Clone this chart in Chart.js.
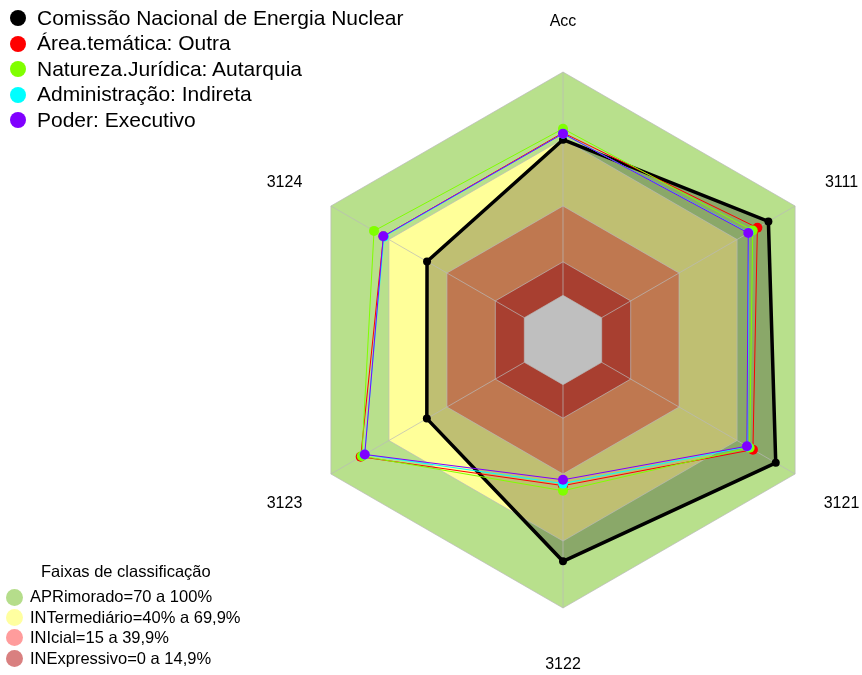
<!DOCTYPE html>
<html>
<head>
<meta charset="utf-8">
<script src="https://cdn.jsdelivr.net/npm/chart.js@4/dist/chart.umd.min.js"></script>
<style>
  body { margin:0; background:#fff; font-family:"Liberation Sans", Arial, sans-serif; }
  #wrap { position:relative; width:862px; height:675px; }
  canvas { position:absolute; left:0; top:0; }
  .leg { position:absolute; left:0; top:0; }
  .item { position:absolute; white-space:nowrap; color:#000; }
  .dot { position:absolute; border-radius:50%; }
</style>
</head>
<body>
<div id="wrap">
  <canvas id="chart" width="862" height="675"></canvas>
  <div id="legTop" class="leg"></div>
  <div id="legBands" class="leg"></div>
</div>
<script>
// eixos
const axisLabels = ['Acc', '3111', '3121', '3122', '3123', '3124'];

// séries (valores em %)
const seriesNames = ['Comissão Nacional de Energia Nuclear', 'Área.temática: Outra', 'Natureza.Jurídica: Autarquia', 'Administração: Indireta', 'Poder: Executivo'];
const cnen        = [69.7, 86.2, 90.0, 79.1, 50.4, 50.3];
const areaOutra   = [72.8, 80.5, 78.2, 45.2, 84.6, 72.8];
const autarquia   = [74.6, 78.1, 76.5, 47.5, 84.0, 77.7];
const indireta    = [72.4, 76.0, 75.4, 44.3, 82.6, 72.6];
const executivo   = [72.4, 75.8, 75.1, 42.6, 82.5, 72.9];
const seriesColors = ['#000000', '#ff0000', '#80ff00', '#00ffff', '#8000ff'];

// faixas de classificação
const bandNames  = ['APRimorado=70 a 100%', 'INTermediário=40% a 69,9%', 'INIcial=15 a 39,9%', 'INExpressivo=0 a 14,9%'];
const bandLevels = [100, 70, 40, 15, 0];
const bandFill   = ['#b8e08c', '#ffff99', '#ffa06b', '#e05540', '#ffffff'];
const bandLegend = ['#b5dd8b', '#ffffa0', '#ff9c9c', '#d98080'];

const el = (id) => document.getElementById(id);

const datasets = [];
bandLevels.forEach((lv, i) => {
  datasets.push({
    label: 'band' + lv,
    data: axisLabels.map(() => lv),
    backgroundColor: bandFill[i],
    borderWidth: 0,
    pointRadius: 0,
    fill: 'start',
    order: 20 - i
  });
});
const allSeries = [cnen, areaOutra, autarquia, indireta, executivo];
allSeries.forEach((d, i) => {
  datasets.push({
    label: seriesNames[i],
    data: d,
    borderColor: seriesColors[i],
    backgroundColor: i === 0 ? 'rgba(0,0,0,0.25)' : seriesColors[i],
    pointBackgroundColor: seriesColors[i],
    pointBorderWidth: 0,
    borderWidth: i === 0 ? 3.5 : 1,
    pointRadius: i === 0 ? 4 : 5,
    fill: i === 0 ? 'start' : false,
    order: 5 - i
  });
});

// grade (hexágonos + raios) desenhada por cima das faixas
const gridPlugin = {
  id: 'gridOver',
  beforeDatasetDraw(chart, args) {
    if (chart.data.datasets[args.index].label !== seriesNames[0]) return;
    const s = chart.scales.r, ctx = chart.ctx, n = axisLabels.length;
    ctx.save();
    ctx.lineWidth = 1;
    ctx.strokeStyle = 'rgba(185,185,185,0.7)';
    bandLevels.forEach(lv => {
      ctx.beginPath();
      for (let i = 0; i < n; i++) {
        const p = s.getPointPositionForValue(i, lv);
        i ? ctx.lineTo(p.x, p.y) : ctx.moveTo(p.x, p.y);
      }
      ctx.closePath();
      ctx.stroke();
    });
    for (let i = 0; i < n; i++) {
      const a = s.getPointPositionForValue(i, 0), b = s.getPointPositionForValue(i, 100);
      ctx.beginPath(); ctx.moveTo(a.x, a.y); ctx.lineTo(b.x, b.y); ctx.stroke();
    }
    ctx.restore();
  },
  afterDraw(chart) {
    const s = chart.scales.r, ctx = chart.ctx;
    ctx.save();
    ctx.fillStyle = '#000';
    ctx.font = '16px "Liberation Sans", Arial, sans-serif';
    ctx.textAlign = 'center';
    ctx.textBaseline = 'middle';
    axisLabels.forEach((t, i) => {
      const p = s.getPointPosition(i, s.drawingArea * 1.2);
      ctx.fillText(t, p.x, p.y + 3);
    });
    ctx.restore();
  }
};

new Chart(el('chart').getContext('2d'), {
  type: 'radar',
  data: { labels: axisLabels, datasets },
  options: {
    responsive: false,
    animation: false,
    layout: { padding: { left: 295, right: 31, top: 72, bottom: 67 } },
    elements: { line: { tension: 0 } },
    plugins: { legend: { display: false }, tooltip: { enabled: false } },
    scales: {
      r: {
        min: -20, max: 100,
        beginAtZero: false,
        ticks: { display: false },
        grid: { display: false },
        angleLines: { display: false },
        pointLabels: { display: false }
      }
    }
  },
  plugins: [gridPlugin]
});

// legendas
function addItem(box, x, y, r, color, text, fs, tx) {
  const d = document.createElement('div');
  d.className = 'dot';
  d.style.cssText += `left:${x - r}px;top:${y - r}px;width:${2*r}px;height:${2*r}px;background:${color}`;
  box.appendChild(d);
  const t = document.createElement('div');
  t.className = 'item';
  t.style.cssText += `left:${tx}px;top:${y - fs*0.58}px;font-size:${fs}px;line-height:${fs*1.15}px`;
  t.textContent = text;
  box.appendChild(t);
}
const legTop = el('legTop');
seriesNames.forEach((n, i) => addItem(legTop, 18, 18 + i*25.5, 8, seriesColors[i], n, 21, 37));

const legBands = el('legBands');
const bandTitle = document.createElement('div');
bandTitle.className = 'item';
bandTitle.style.cssText += 'left:41px;top:562px;font-size:16.5px;line-height:18px';
bandTitle.textContent = 'Faixas de classificação';
legBands.appendChild(bandTitle);
bandNames.forEach((n, i) => addItem(legBands, 14, 597 + i*20.4, 8.5, bandLegend[i], n, 16.5, 30));
</script>
</body>
</html>
